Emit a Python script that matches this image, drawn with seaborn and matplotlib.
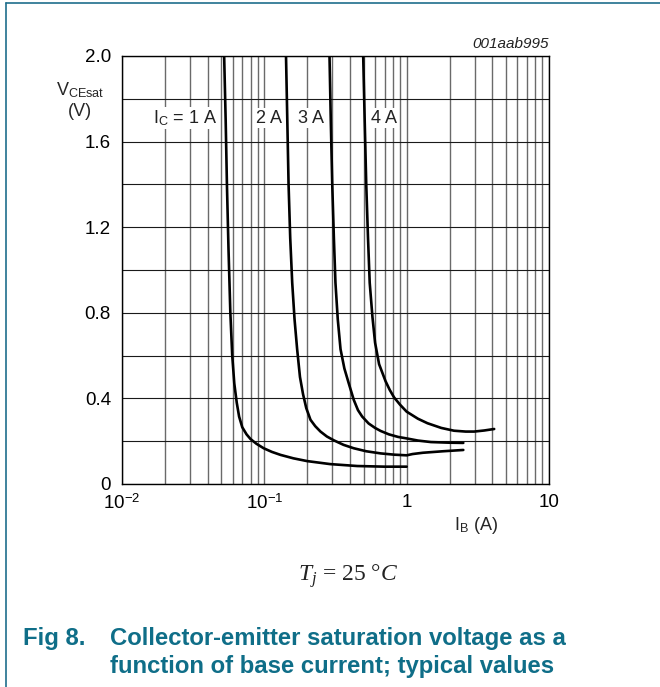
import matplotlib
matplotlib.use("Agg")
import matplotlib.pyplot as plt
from matplotlib.lines import Line2D
from matplotlib.ticker import FixedLocator, FixedFormatter, NullFormatter
import pandas as pd
import seaborn as sns

# ---- data ----
ib_1a = [0.0522, 0.0535, 0.0546, 0.056, 0.0577, 0.0595, 0.0615, 0.064, 0.0665, 0.070,
         0.075, 0.080, 0.088, 0.099, 0.113, 0.130, 0.160, 0.20, 0.29, 0.45, 0.70, 1.0]
v_1a = [2.0, 1.70, 1.40, 1.10, 0.80, 0.60, 0.47, 0.38, 0.315, 0.265,
        0.232, 0.210, 0.188, 0.167, 0.150, 0.136, 0.120, 0.107, 0.093, 0.084, 0.081, 0.081]

ib_2a = [0.142, 0.145, 0.148, 0.152, 0.157, 0.163, 0.17, 0.178, 0.187, 0.197, 0.211,
         0.228, 0.248, 0.275, 0.308, 0.36, 0.425, 0.52, 0.656, 0.82, 1.0, 1.1, 1.3, 1.8, 2.5]
v_2a = [2.0, 1.70, 1.40, 1.15, 0.94, 0.77, 0.63, 0.50, 0.42, 0.355, 0.30,
        0.27, 0.245, 0.222, 0.204, 0.183, 0.167, 0.153, 0.143, 0.137, 0.134, 0.140, 0.146, 0.153, 0.159]

ib_3a = [0.287, 0.293, 0.30, 0.308, 0.316, 0.328, 0.343, 0.365, 0.392, 0.425, 0.455,
         0.487, 0.54, 0.60, 0.656, 0.75, 0.87, 1.0, 1.2, 1.48, 2.0, 2.5]
v_3a = [2.0, 1.70, 1.40, 1.15, 0.94, 0.77, 0.63, 0.54, 0.47, 0.393, 0.345,
        0.315, 0.283, 0.262, 0.248, 0.232, 0.220, 0.213, 0.203, 0.196, 0.193, 0.192]

ib_4a = [0.495, 0.507, 0.52, 0.535, 0.55, 0.575, 0.60, 0.64, 0.711, 0.76, 0.815,
         0.90, 1.0, 1.2, 1.4, 1.75, 2.15, 2.6, 2.98, 3.5, 4.12]
v_4a = [2.0, 1.70, 1.40, 1.15, 0.94, 0.78, 0.66, 0.56, 0.48, 0.44, 0.405,
        0.37, 0.338, 0.305, 0.284, 0.262, 0.249, 0.245, 0.245, 0.250, 0.257]

curve_names = ["1 A", "2 A", "3 A", "4 A"]
curve_labels = ["I$_{\\rm C}$ = 1 A", "2 A", "3 A", "4 A"]
x_ticks = [0.01, 0.1, 1, 10]
x_ticklabels = ["$10^{-2}$", "$10^{-1}$", "1", "10"]
y_ticks = [0, 0.4, 0.8, 1.2, 1.6, 2.0]
y_ticklabels = ["0", "0.4", "0.8", "1.2", "1.6", "2.0"]

frames = []
for name, xs, ys in zip(curve_names, [ib_1a, ib_2a, ib_3a, ib_4a], [v_1a, v_2a, v_3a, v_4a]):
    frames.append(pd.DataFrame({"IB": xs, "V": ys, "IC": name}))
df = pd.concat(frames, ignore_index=True)

# ---- style ----
sns.set_theme(style="white")
plt.rcParams["font.family"] = ["Liberation Sans", "DejaVu Sans"]
plt.rcParams["mathtext.fontset"] = "custom"
plt.rcParams["mathtext.rm"] = "Liberation Sans"
plt.rcParams["mathtext.it"] = "Liberation Serif:italic"
plt.rcParams["mathtext.bf"] = "Liberation Sans:bold"

W, H = 660, 687
fig = plt.figure(figsize=(W / 100, H / 100), dpi=100)
ax = fig.add_axes([122 / W, 1 - 484 / H, (549 - 122) / W, (484 - 56) / H])

sns.lineplot(data=df, x="IB", y="V", hue="IC", palette=["black"] * 4,
             legend=False, sort=False, estimator=None, lw=1.9, ax=ax, zorder=5)
for ln in ax.get_lines():
    ln.set_solid_joinstyle("round")
    ln.set_solid_capstyle("round")

ax.set_xscale("log")
ax.set_xlim(0.01, 10)
ax.set_ylim(0, 2.0)

# grid
ax.xaxis.set_major_locator(FixedLocator(x_ticks))
ax.xaxis.set_major_formatter(FixedFormatter(x_ticklabels))
minors = [m * 10.0 ** k for k in (-2, -1, 0) for m in range(2, 10)]
ax.xaxis.set_minor_locator(FixedLocator(minors))
ax.xaxis.set_minor_formatter(NullFormatter())
ax.yaxis.set_major_locator(FixedLocator(y_ticks))
ax.yaxis.set_major_formatter(FixedFormatter(y_ticklabels))
ax.yaxis.set_minor_locator(FixedLocator([0.2, 0.6, 1.0, 1.4, 1.8]))

ax.grid(True, axis="x", which="both", color="#6a6a6a", lw=1.0, zorder=1)
ax.grid(True, axis="y", which="both", color="#1a1a1a", lw=0.8, zorder=1)
ax.set_axisbelow(True)

for s in ax.spines.values():
    s.set_color("black")
    s.set_linewidth(1.0)

ax.tick_params(axis="both", which="both", length=0, labelsize=13.5, colors="black")
ax.tick_params(axis="y", pad=8)
ax.tick_params(axis="x", pad=7)
ax.set_xlabel("")
ax.set_ylabel("")

# curve labels
label_x = [0.0278, 0.108, 0.213, 0.695]
for lx, txt in zip(label_x, curve_labels):
    ax.text(lx, 1.71, txt, ha="center", va="center", fontsize=13, color="#222222",
            bbox=dict(facecolor="white", edgecolor="none", pad=1.0), zorder=3)

# axis titles
fig.text(80 / W, 1 - 100 / H, "V$_{\\rm CEsat}$\n(V)", ha="center", va="center",
         fontsize=13, multialignment="center", linespacing=1.25)
fig.text(476 / W, 1 - 525 / H, "I$_{\\rm B}$ (A)", ha="center", va="center", fontsize=13)
fig.text(549 / W, 1 - 44 / H, "001aab995", ha="right", va="center", fontsize=11,
         style="italic", color="#222222")

# condition
fig.text(348 / W, 1 - 576 / H, "$T_j$ = 25 °$C$", ha="center", va="center",
         fontsize=17, family="Liberation Serif", color="#222222")

# caption
teal = "#0f6e88"
cap_fs = 17.2
fig.text(23 / W, 1 - 645 / H, "Fig 8.", ha="left", va="baseline", fontsize=cap_fs,
         fontweight="bold", color=teal)
fig.text(110 / W, 1 - 645 / H, "Collector-emitter saturation voltage as a", ha="left",
         va="baseline", fontsize=cap_fs, fontweight="bold", color=teal)
fig.text(110 / W, 1 - 673 / H, "function of base current; typical values", ha="left",
         va="baseline", fontsize=cap_fs, fontweight="bold", color=teal)

# frame lines
border = "#1f6e8c"
fig.add_artist(Line2D([5.5 / W, 5.5 / W], [0, 1 - 3.3 / H], transform=fig.transFigure,
                      color=border, lw=1.2))
fig.add_artist(Line2D([5.5 / W, 1], [1 - 3.3 / H, 1 - 3.3 / H], transform=fig.transFigure,
                      color=border, lw=1.2))

fig.savefig("out.png", dpi=100)
